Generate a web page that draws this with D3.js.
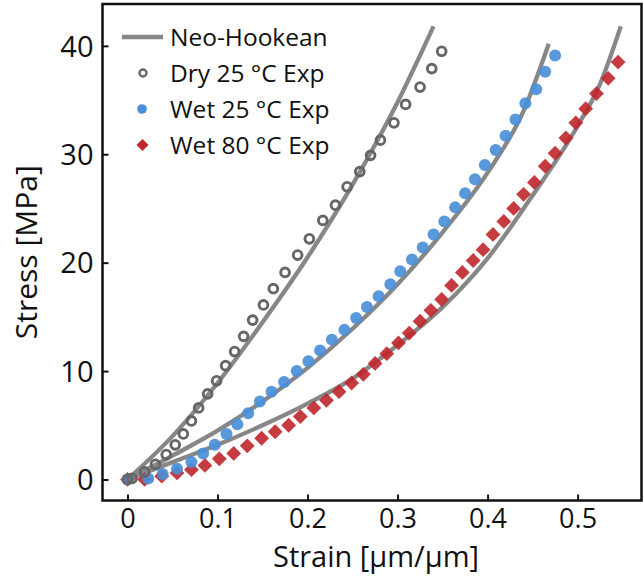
<!DOCTYPE html>
<html><head><meta charset="utf-8">
<script src="https://cdn.jsdelivr.net/npm/d3@7"></script>
<style>
body{margin:0;background:#fff}
svg{display:block}
text{font-family:"Open Sans",sans-serif;fill:#111}
</style>
</head><body>
<svg id="c" width="643" height="582"></svg>
<script>
// ---- data ----
const dryStrain=[0,0.005,0.019,0.031,0.043,0.053,0.062,0.071,0.079,0.089,0.099,0.109,0.119,0.129,0.139,0.151,0.162,0.175,0.189,0.202,0.217,0.231,0.244,0.258,0.270,0.281,0.296,0.309,0.325,0.338,0.349];
const dryStress=[0,0.1,0.7,1.4,2.3,3.2,4.2,5.4,6.6,7.9,9.1,10.5,11.8,13.2,14.7,16.1,17.6,19.1,20.7,22.2,23.9,25.3,27.0,28.4,29.9,31.3,32.9,34.6,36.2,37.9,39.5];

const wet25Strain=[0,0.023,0.039,0.055,0.071,0.084,0.097,0.110,0.122,0.134,0.147,0.160,0.174,0.188,0.201,0.214,0.227,0.241,0.254,0.266,0.279,0.292,0.303,0.316,0.328,0.340,0.352,0.364,0.375,0.386,0.397,0.409,0.420,0.431,0.442,0.454,0.464,0.475];
const wet25Stress=[0,0.1,0.5,1.0,1.6,2.4,3.2,4.2,5.1,6.1,7.2,8.1,9.0,10.0,10.9,11.9,12.9,13.8,14.9,15.9,16.9,18.0,19.2,20.3,21.4,22.6,23.8,25.1,26.4,27.7,29.0,30.4,31.7,33.2,34.7,36.0,37.6,39.1];

const wet80Strain=[0,0.019,0.038,0.055,0.071,0.086,0.102,0.118,0.133,0.149,0.164,0.179,0.192,0.207,0.221,0.235,0.249,0.262,0.275,0.288,0.301,0.313,0.325,0.337,0.349,0.360,0.372,0.384,0.395,0.406,0.418,0.429,0.440,0.452,0.464,0.475,0.487,0.498,0.509,0.521,0.534,0.545];
const wet80Stress=[0,0.0,0.3,0.6,0.9,1.3,1.9,2.4,3.1,3.8,4.4,5.0,5.8,6.6,7.3,8.1,8.9,9.7,10.7,11.6,12.6,13.5,14.6,15.6,16.6,17.9,19.1,20.2,21.2,22.6,23.8,25.0,26.3,27.4,28.9,30.1,31.5,32.9,34.2,35.6,37.0,38.5];

const nhDryStrain=[0,0.05,0.1,0.15,0.2,0.25,0.3,0.34];
const nhDryStress=[0,4.0,8.9,14.5,20.5,27.2,34.8,41.8];
const nhWet25Strain=[0,0.05,0.1,0.15,0.2,0.25,0.3,0.35,0.4,0.44,0.468];
const nhWet25Stress=[0,2.2,4.5,7.2,10.3,13.9,18.0,22.8,28.3,34.0,40.2];
const nhWet80Strain=[0,0.05,0.1,0.15,0.2,0.25,0.3,0.35,0.4,0.45,0.5,0.525,0.548];
const nhWet80Stress=[0,1.6,3.2,5.0,7.0,9.3,12.4,15.9,20.4,26.2,32.6,36.5,41.8];

const xTicks=[0,0.1,0.2,0.3,0.4,0.5];
const xTickLabels=["0","0.1","0.2","0.3","0.4","0.5"];
const yTicks=[0,10,20,30,40];
const legendLabels=["Neo-Hookean","Dry 25 °C Exp","Wet 25 °C Exp","Wet 80 °C Exp"];

// ---- layout ----
const L=102.5,R=641.5,T=4,B=500.5;
const x=d3.scaleLinear().domain([-0.0278,0.571]).range([L,R]);
const y=d3.scaleLinear().domain([-1.94,43.86]).range([B,T]);

const svg=d3.select("#c");
const zip=(a,b)=>a.map((v,i)=>[v,b[i]]);
const line=d3.line().x(d=>x(d[0])).y(d=>y(d[1])).curve(d3.curveMonotoneX);

const lineColor="#878787";
[[nhDryStrain,nhDryStress],[nhWet25Strain,nhWet25Stress],[nhWet80Strain,nhWet80Stress]].forEach(([s,v])=>{
  svg.append("path").attr("d",line(zip(s,v))).attr("fill","none")
    .attr("stroke",lineColor).attr("stroke-width",4.3).attr("stroke-linecap","butt");
});

const diamond=(cx,cy,r)=>`M${cx},${cy-r}L${cx+r},${cy}L${cx},${cy+r}L${cx-r},${cy}Z`;

// wet 80 diamonds
svg.append("g").selectAll("path").data(zip(wet80Strain,wet80Stress)).join("path")
  .attr("d",d=>diamond(x(d[0]),y(d[1]),7.4)).attr("fill","#c0262b").attr("fill-opacity",0.9);
// wet 25 circles
svg.append("g").selectAll("circle").data(zip(wet25Strain,wet25Stress)).join("circle")
  .attr("cx",d=>x(d[0])).attr("cy",d=>y(d[1])).attr("r",6)
  .attr("fill","#4a8fd8").attr("fill-opacity",0.92);
// dry open circles
svg.append("g").selectAll("circle").data(zip(dryStrain,dryStress)).join("circle")
  .attr("cx",d=>x(d[0])).attr("cy",d=>y(d[1])).attr("r",4.4)
  .attr("fill","none").attr("stroke","#666").attr("stroke-width",2.9);

// ---- frame ----
svg.append("rect").attr("x",L).attr("y",T).attr("width",R-L).attr("height",B-T)
  .attr("fill","none").attr("stroke","#111").attr("stroke-width",2.5);

// axes
const xAxis=d3.axisBottom(x).tickValues(xTicks).tickFormat((d,i)=>xTickLabels[i]).tickSizeInner(-6).tickSizeOuter(0).tickPadding(8);
const gx=svg.append("g").attr("transform",`translate(0,${B})`).call(xAxis);
gx.select(".domain").remove();
gx.selectAll("line").attr("stroke","#111").attr("stroke-width",2);
gx.selectAll("text").style("font-size","27px").attr("fill","#111");

const yAxis=d3.axisLeft(y).tickValues(yTicks).tickSizeInner(-6).tickSizeOuter(0).tickPadding(9);
const gy=svg.append("g").attr("transform",`translate(${L},0)`).call(yAxis);
gy.select(".domain").remove();
gy.selectAll("line").attr("stroke","#111").attr("stroke-width",2);
gy.selectAll("text").style("font-size","29px").attr("fill","#111").attr("dy","0.35em");

// axis labels
svg.append("text").attr("x",376).attr("y",567).attr("text-anchor","middle")
  .style("font-size","29px").text("Strain [µm/µm]");
svg.append("text").attr("transform",`translate(37,${(T+B)/2}) rotate(-90)`).attr("text-anchor","middle")
  .style("font-size","30px").text("Stress [MPa]");

// legend
const lg=svg.append("g");
const rowY=[37,73,109,145];
lg.append("line").attr("x1",122).attr("x2",163).attr("y1",rowY[0]).attr("y2",rowY[0])
  .attr("stroke",lineColor).attr("stroke-width",4.5);
lg.append("circle").attr("cx",143).attr("cy",rowY[1]).attr("r",3.5).attr("fill","none").attr("stroke","#666").attr("stroke-width",2.4);
lg.append("circle").attr("cx",142).attr("cy",rowY[2]).attr("r",4.8).attr("fill","#4a8fd8");
lg.append("path").attr("d",diamond(142.5,rowY[3],6)).attr("fill","#c0262b");
legendLabels.forEach((t,i)=>{
  lg.append("text").attr("x",170).attr("y",rowY[i]).attr("dy","0.35em").style("font-size","24.5px").text(t);
});
</script>
</body></html>
